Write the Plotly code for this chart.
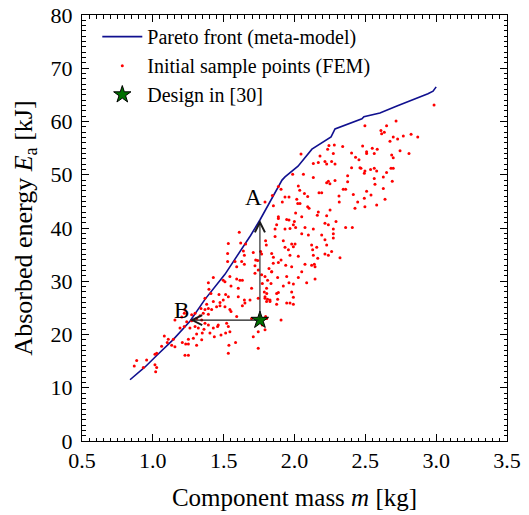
import plotly.graph_objects as go

# Pareto front predicted by the meta-model: component mass [kg] vs absorbed energy [kJ]
pareto_m = [0.839, 0.945, 1.029, 1.142, 1.262, 1.368, 1.509, 1.601, 1.690, 1.756,
            1.806, 1.912, 1.933, 2.025, 2.123, 2.229, 2.258, 2.286, 2.392, 2.476,
            2.490, 2.603, 2.723, 2.829, 2.942, 2.978, 3.000]
pareto_E = [11.5, 13.9, 16.1, 19.0, 22.5, 26.6, 31.3, 34.9, 38.6, 41.5,
            43.9, 49.0, 49.6, 51.6, 54.8, 56.5, 57.1, 58.6, 59.7, 60.5,
            60.9, 61.6, 62.9, 64.0, 65.2, 65.7, 66.5]

# Initial FEM sample points
sample_m = [
    1.368, 1.340, 1.368, 1.356, 1.392, 1.333, 1.298, 1.274, 1.227, 1.222, 1.204, 1.156,
    1.239, 1.274, 1.309, 1.345, 1.368, 1.392, 1.298, 1.321, 1.262, 1.222, 1.192, 1.361,
    1.403, 1.349, 1.309, 1.345, 1.286, 1.251, 1.208, 1.232, 1.251, 1.309, 1.145, 1.109,
    1.081, 1.102, 1.133, 1.062, 1.156, 1.227, 1.251, 1.027, 1.015, 0.956, 0.886, 0.869,
    0.933, 1.015, 1.027, 1.020,
    1.610, 1.533, 1.620, 1.655, 1.796, 1.801, 1.709, 1.761, 1.768, 1.726, 1.740, 1.639,
    1.646, 1.580, 1.627, 1.646, 1.592, 1.528, 1.528, 1.721, 1.744, 1.721, 1.768, 1.839,
    1.850, 1.792, 1.810, 1.834, 1.773, 1.427, 1.392, 1.497, 1.509, 1.544, 1.552, 1.592,
    1.615, 1.632, 1.697, 1.803, 1.787, 1.396, 1.410, 1.467, 1.514, 1.533, 1.603, 1.603,
    1.646, 1.650, 1.632, 1.686, 1.744, 1.792, 1.810, 1.827, 1.803, 1.497, 1.474, 1.427,
    1.380, 1.392, 1.415, 1.450, 1.474, 1.509, 1.544, 1.552, 1.592, 1.697, 1.796, 1.427,
    1.462, 1.457, 1.521, 1.533, 1.544, 1.514, 1.434, 1.481, 1.584, 1.709, 1.744, 1.792,
    1.773, 1.537, 1.744, 1.533,
    2.046, 2.180, 2.133, 2.168, 2.063, 1.987, 2.133, 2.027, 1.886, 1.905, 2.037, 2.070,
    2.173, 2.192, 1.844, 1.933, 1.961, 1.914, 2.016, 2.023, 2.039, 2.093, 2.093, 2.103,
    1.851, 1.792, 2.168, 2.161, 2.251, 2.008, 2.051, 1.886, 1.886, 1.945, 1.961, 1.999,
    1.992, 1.874, 1.863, 1.933, 1.968, 2.008, 2.074, 2.133, 2.192, 2.098, 2.051, 1.863,
    1.921, 1.980, 2.004, 1.992, 1.957, 1.933, 2.121, 2.157, 2.128, 2.239, 2.133, 2.164,
    2.027, 1.968, 1.839, 1.851, 1.905, 2.074, 2.121, 2.140, 2.145, 1.980, 1.938, 1.886,
    1.820, 1.839, 2.051, 2.145, 2.086, 2.027, 1.945, 1.881, 1.992, 1.961, 1.921, 1.980,
    1.992, 1.804, 1.874, 1.886, 1.792, 1.827, 1.881, 1.874, 1.945, 1.968, 1.992, 1.804,
    1.905,
    2.497, 2.610, 2.634, 2.615, 2.650, 2.697, 2.674, 2.243, 2.281, 2.340, 2.481, 2.549,
    2.584, 2.234, 2.274, 2.403, 2.509, 2.509, 2.563, 2.686, 2.697, 2.431, 2.455, 2.215,
    2.227, 2.286, 2.262, 2.403, 2.462, 2.469, 2.537, 2.563, 2.580, 2.497, 2.493, 2.650,
    2.697, 2.681, 2.627, 2.375, 2.563, 2.568, 2.690, 2.239, 2.227, 2.250, 2.286, 2.375,
    2.344, 2.361, 2.509, 2.627, 2.415, 2.540, 2.314, 2.493, 2.639, 2.446, 2.316, 2.497,
    2.580, 2.427, 2.227, 2.215, 2.293, 2.239, 2.274, 2.361, 2.408, 2.274, 2.274, 2.215,
    2.227, 2.215, 2.262, 2.321,
    2.985, 2.717, 2.728, 2.768, 2.823, 2.870, 2.745, 2.808,
]
sample_E = [
    26.8, 24.9, 24.7, 24.0, 23.8, 23.5, 24.0, 23.7, 24.6, 24.0, 23.3, 22.7,
    22.4, 22.6, 23.0, 22.7, 22.1, 21.8, 21.5, 21.2, 21.2, 21.5, 21.2, 21.0,
    20.3, 20.3, 20.1, 19.0, 19.3, 19.1, 18.5, 18.2, 18.2, 18.0, 19.1, 19.1,
    19.7, 18.5, 18.0, 17.8, 17.7, 16.1, 16.1, 16.5, 16.3, 15.2, 15.1, 14.1,
    13.8, 14.3, 13.8, 13.0,
    39.2, 37.1, 37.2, 37.0, 37.6, 36.8, 35.4, 35.6, 35.1, 34.0, 33.9, 35.7,
    34.9, 33.7, 33.7, 33.2, 32.7, 33.7, 35.2, 32.9, 32.1, 31.5, 31.2, 31.8,
    33.4, 30.9, 30.2, 29.6, 29.6, 30.7, 29.7, 30.2, 29.9, 30.9, 29.1, 30.4,
    30.2, 30.2, 28.7, 28.7, 28.0, 28.5, 27.7, 27.5, 27.5, 27.1, 28.7, 27.1,
    26.5, 25.9, 25.4, 26.5, 26.8, 26.8, 26.6, 26.5, 26.2, 26.5, 26.0, 26.2,
    25.7, 24.9, 24.7, 25.2, 25.4, 25.2, 24.7, 24.3, 23.4, 23.0, 23.4, 21.2,
    21.8, 21.5, 22.1, 21.5, 20.5, 20.3, 19.6, 19.9, 18.5, 19.6, 20.5, 20.9,
    21.8, 18.0, 17.4, 16.5,
    53.9, 53.5, 52.1, 52.3, 50.1, 50.1, 49.5, 47.9, 47.8, 47.3, 47.1, 46.5,
    46.6, 46.6, 46.1, 45.8, 45.8, 44.9, 45.4, 44.6, 44.6, 45.9, 44.0, 43.7,
    44.2, 44.9, 43.0, 42.4, 43.4, 42.8, 42.1, 42.1, 41.8, 41.6, 41.5, 41.2,
    40.6, 40.6, 39.8, 39.8, 39.9, 40.1, 40.1, 39.8, 38.7, 38.7, 38.9, 38.4,
    37.6, 37.0, 37.0, 36.5, 35.9, 36.4, 36.8, 36.4, 35.9, 34.9, 34.9, 34.3,
    34.7, 34.9, 35.2, 34.5, 34.0, 33.2, 33.0, 33.2, 32.7, 32.7, 33.0, 33.5,
    32.4, 31.8, 31.8, 30.4, 29.7, 30.7, 30.9, 30.7, 29.5, 29.7, 29.1, 28.0,
    27.0, 27.7, 27.7, 27.9, 27.1, 26.2, 26.6, 25.7, 25.9, 25.9, 25.7, 23.0,
    22.7,
    59.2, 58.3, 58.0, 57.7, 59.2, 57.1, 56.3, 55.5, 55.6, 55.3, 55.4, 55.0,
    54.8, 54.8, 54.0, 54.1, 54.3, 54.0, 54.0, 53.7, 53.2, 53.3, 52.8, 52.5,
    52.0, 52.0, 52.5, 51.3, 51.3, 51.2, 51.0, 51.2, 50.7, 50.7, 50.3, 50.4,
    51.2, 51.2, 49.6, 49.8, 49.3, 48.2, 48.8, 48.8, 48.5, 48.3, 48.9, 48.7,
    47.3, 47.3, 46.9, 47.4, 46.3, 46.2, 46.0, 45.6, 45.4, 44.9, 44.9, 44.0,
    44.3, 43.7, 42.3, 40.9, 41.2, 40.6, 39.8, 40.1, 40.1, 38.9, 38.1, 37.8,
    36.8, 35.1, 35.6, 34.4,
    63.1, 60.1, 56.7, 57.3, 57.6, 57.1, 54.5, 54.0,
]

# Reference design and the two improved designs on the front
design_m, design_E = 1.756, 22.7
point_A = (1.756, 41.5)
point_B = (1.262, 22.7)

FONT = "Liberation Serif"

fig = go.Figure()
fig.add_trace(go.Scatter(
    x=pareto_m, y=pareto_E, mode="lines",
    line=dict(color="#10108f", width=1.6),
    name="Pareto front (meta-model)",
))
fig.add_trace(go.Scatter(
    x=sample_m, y=sample_E, mode="markers",
    marker=dict(color="red", size=3, line=dict(width=0)),
    name="Initial sample points (FEM)",
))
fig.add_trace(go.Scatter(
    x=[design_m], y=[design_E], mode="markers",
    marker=dict(symbol="star", size=13, color="#007000",
                line=dict(color="black", width=1)),
    name="Design in [30]",
))

# Arrows from the reference design to A (same mass) and B (same energy)
for target in (point_A, point_B):
    fig.add_annotation(
        x=target[0], y=target[1], ax=design_m, ay=design_E,
        xref="x", yref="y", axref="x", ayref="y",
        text="", showarrow=True, arrowhead=5, arrowsize=1.8,
        arrowwidth=1.1, arrowcolor="#1a1a1a", standoff=0, startstandoff=0,
    )
fig.add_annotation(x=point_A[0], y=point_A[1], text="A", showarrow=False,
                   xanchor="right", yanchor="bottom", xshift=4, yshift=8,
                   font=dict(family=FONT, size=23, color="black"))
fig.add_annotation(x=point_B[0], y=point_B[1], text="B", showarrow=False,
                   xanchor="right", yanchor="bottom", xshift=1, yshift=-5,
                   font=dict(family=FONT, size=23, color="black"))

axis_common = dict(
    showline=True, linecolor="black", linewidth=1, mirror="allticks",
    ticks="inside", ticklen=7, tickwidth=1, tickcolor="black",
    showgrid=False, zeroline=False, automargin=False,
    tickfont=dict(family=FONT, size=22, color="black"),
)
fig.update_xaxes(
    range=[0.5, 3.5], tick0=0.5, dtick=0.5, tickformat=".1f",
    minor=dict(ticks="inside", ticklen=3.5, dtick=0.05, tickcolor="black"),
    title=dict(text="Component mass <i>m</i> [kg]", standoff=16,
               font=dict(family=FONT, size=25, color="black")),
    **axis_common,
)
fig.update_yaxes(
    range=[0, 80], dtick=10,
    minor=dict(ticks="inside", ticklen=3.5, dtick=1, tickcolor="black"),
    title=dict(text="Absorbed energy <i>E</i><sub>a</sub> [kJ]", standoff=10,
               font=dict(family=FONT, size=26, color="black")),
    ticklabelstandoff=4,
    **axis_common,
)
fig.update_layout(
    width=529, height=515,
    margin=dict(l=82, r=22, t=15, b=74, autoexpand=False),
    paper_bgcolor="white", plot_bgcolor="white",
    showlegend=True,
    legend=dict(x=0.036, y=0.995, xanchor="left", yanchor="top",
                itemwidth=40, bgcolor="rgba(0,0,0,0)", borderwidth=0,
                font=dict(family=FONT, size=20, color="black"),
                tracegroupgap=0),
)
fig.write_html("out.html")
